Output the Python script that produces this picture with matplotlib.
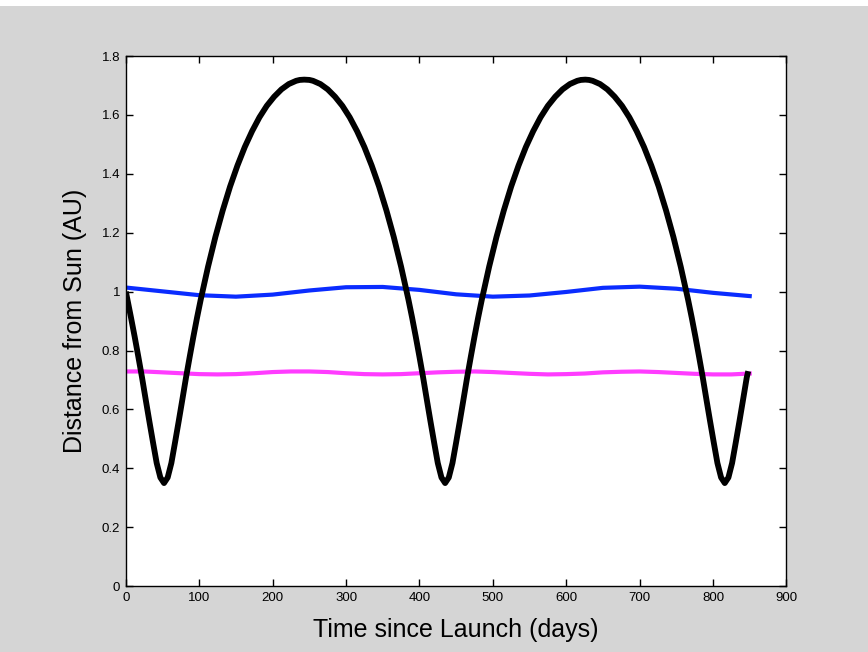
import matplotlib
matplotlib.use("Agg")
import matplotlib.pyplot as plt
from matplotlib.patches import Rectangle
from matplotlib.ticker import FormatStrFormatter

# Spacecraft transfer orbit (black)
craft_t = [0, 7, 12, 17, 22, 27, 32, 37, 42, 47, 52, 57, 62, 67, 72, 77, 82,
           87, 92, 97, 102, 107, 112, 122, 132, 142, 152, 162, 172, 182, 192,
           202, 212, 222, 232, 237, 243, 250, 255, 265, 275, 285, 295, 305,
           315, 325, 335, 345, 355, 365, 375, 380, 385, 390, 395, 400, 405,
           410, 415, 420, 425, 430, 435, 440, 445, 450, 455, 460, 465, 470,
           475, 480, 485, 490, 495, 505, 515, 525, 535, 545, 555, 565, 575,
           585, 595, 605, 615, 620, 626, 631, 636, 646, 656, 666, 676, 686,
           696, 706, 716, 726, 736, 746, 756, 761, 766, 771, 776, 781, 786,
           791, 796, 801, 806, 811, 816, 821, 826, 831, 836, 841, 846, 848]
craft_r = [1.000, 0.912, 0.847, 0.779, 0.709, 0.634, 0.560, 0.488, 0.418,
           0.369, 0.350, 0.369, 0.418, 0.488, 0.560, 0.634, 0.709, 0.779,
           0.847, 0.912, 0.973, 1.029, 1.085, 1.186, 1.276, 1.357, 1.428,
           1.491, 1.545, 1.592, 1.631, 1.662, 1.687, 1.705, 1.716, 1.719,
           1.720, 1.719, 1.716, 1.705, 1.687, 1.662, 1.631, 1.592, 1.545,
           1.491, 1.428, 1.357, 1.276, 1.186, 1.085, 1.029, 0.973, 0.912,
           0.847, 0.779, 0.709, 0.634, 0.560, 0.488, 0.418, 0.369, 0.350,
           0.369, 0.418, 0.488, 0.560, 0.634, 0.709, 0.779, 0.847, 0.912,
           0.973, 1.029, 1.085, 1.186, 1.276, 1.357, 1.428, 1.491, 1.545,
           1.592, 1.631, 1.662, 1.687, 1.705, 1.716, 1.719, 1.720, 1.719,
           1.716, 1.705, 1.687, 1.662, 1.631, 1.592, 1.545, 1.491, 1.428,
           1.357, 1.276, 1.186, 1.085, 1.029, 0.973, 0.912, 0.847, 0.779,
           0.709, 0.634, 0.560, 0.488, 0.418, 0.369, 0.350, 0.369, 0.418,
           0.488, 0.560, 0.634, 0.709, 0.730]

# Earth (blue)
earth_t = [0, 50, 100, 150, 200, 250, 300, 350, 400, 450, 500, 550, 600,
           650, 700, 750, 800, 850]
earth_r = [1.014, 1.001, 0.988, 0.983, 0.990, 1.004, 1.015, 1.016, 1.006,
           0.991, 0.983, 0.987, 0.999, 1.013, 1.017, 1.010, 0.996, 0.985]

# Venus (magenta)
venus_t = [0, 25, 50, 75, 100, 125, 150, 175, 200, 225, 250, 275, 300, 325,
           350, 375, 400, 425, 450, 475, 500, 525, 550, 575, 600, 625, 650,
           675, 700, 725, 750, 775, 800, 825, 850]
venus_r = [0.729, 0.729, 0.726, 0.723, 0.720, 0.719, 0.720, 0.723, 0.727,
           0.729, 0.729, 0.727, 0.723, 0.720, 0.719, 0.720, 0.723, 0.726,
           0.728, 0.729, 0.727, 0.724, 0.721, 0.719, 0.720, 0.722, 0.726,
           0.728, 0.729, 0.727, 0.724, 0.721, 0.719, 0.719, 0.722]

x_ticks = [0, 100, 200, 300, 400, 500, 600, 700, 800, 900]
y_ticks = [0, 0.2, 0.4, 0.6, 0.8, 1.0, 1.2, 1.4, 1.6, 1.8]

plt.rcParams["font.family"] = ["Liberation Sans", "DejaVu Sans"]

fig = plt.figure(figsize=(8.68, 6.52), dpi=100, facecolor="#d5d5d5")
fig.patches.append(Rectangle((0, 1 - 6 / 652), 1, 6 / 652, transform=fig.transFigure,
                             facecolor="white", edgecolor="none"))
ax = fig.add_axes([0.145, 0.101, 0.761, 0.813])

ax.plot(earth_t, earth_r, color="#0a2cff", lw=3, zorder=2)
ax.plot(venus_t, venus_r, color="#ff3cff", lw=3, zorder=2)
ax.plot(craft_t, craft_r, color="black", lw=4.2, zorder=3,
        solid_joinstyle="round", solid_capstyle="butt")

ax.set_xlim(0, 900)
ax.set_ylim(0, 1.8)
ax.set_xticks(x_ticks)
ax.set_yticks(y_ticks)
ax.yaxis.set_major_formatter(FormatStrFormatter("%g"))
ax.tick_params(direction="in", top=True, right=True, length=5, width=1,
               labelsize=9.5, pad=4)
for s in ax.spines.values():
    s.set_linewidth(1)

ax.set_xlabel("Time since Launch (days)", fontsize=18, labelpad=10)
ax.set_ylabel("Distance from Sun (AU)", fontsize=18, labelpad=11)

fig.savefig("out.png", dpi=100, facecolor=fig.get_facecolor())
